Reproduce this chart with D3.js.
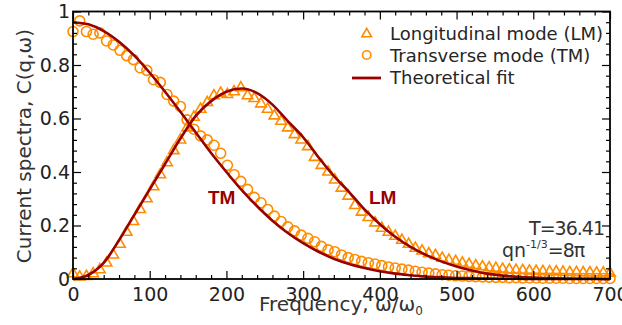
<!DOCTYPE html>
<html>
<head>
<meta charset="utf-8">
<script src="https://cdn.jsdelivr.net/npm/d3@7"></script>
<style>
  html, body { margin: 0; padding: 0; background: #fff; }
  svg { display: block; font-family: "DejaVu Sans", sans-serif; }
</style>
</head>
<body>
<div id="chart"></div>
<script>
// frequency grid of the simulated spectra (omega / omega0)
const omega = [0, 8.75, 17.5, 26.25, 35, 43.75, 52.5, 61.25, 70, 78.75, 87.5, 96.25, 105, 113.75, 122.5, 131.25,
  140, 148.75, 157.5, 166.25, 175, 183.75, 192.5, 201.25, 210, 218.75, 227.5, 236.25, 245, 253.75, 262.5, 271.25,
  280, 288.75, 297.5, 306.25, 315, 323.75, 332.5, 341.25, 350, 358.75, 367.5, 376.25, 385, 393.75, 402.5, 411.25,
  420, 428.75, 437.5, 446.25, 455, 463.75, 472.5, 481.25, 490, 498.75, 507.5, 516.25, 525, 533.75, 542.5, 551.25,
  560, 568.75, 577.5, 586.25, 595, 603.75, 612.5, 621.25, 630, 638.75, 647.5, 656.25, 665, 673.75, 682.5, 691.25, 700];

// longitudinal mode (triangles)
const lmData = [0.02, 0.008, 0.01, 0.02, 0.035, 0.06, 0.09, 0.13, 0.175, 0.215, 0.26, 0.30, 0.345, 0.39, 0.435, 0.48,
  0.52, 0.565, 0.605, 0.635, 0.66, 0.685, 0.695, 0.69, 0.70, 0.715, 0.685, 0.675, 0.655, 0.635, 0.61, 0.59,
  0.565, 0.54, 0.52, 0.495, 0.455, 0.425, 0.40, 0.37, 0.34, 0.31, 0.275, 0.25, 0.23, 0.21, 0.19, 0.175,
  0.16, 0.145, 0.13, 0.115, 0.105, 0.095, 0.088, 0.078, 0.07, 0.066, 0.06, 0.055, 0.05, 0.046, 0.042, 0.04,
  0.037, 0.035, 0.033, 0.032, 0.03, 0.029, 0.028, 0.027, 0.027, 0.026, 0.025, 0.025, 0.024, 0.024, 0.023, 0.023, 0.022];

// transverse mode (circles)
const tmData = [0.925, 0.965, 0.925, 0.915, 0.92, 0.89, 0.875, 0.855, 0.835, 0.82, 0.79, 0.78, 0.745, 0.735, 0.69, 0.665,
  0.645, 0.595, 0.56, 0.535, 0.52, 0.50, 0.47, 0.425, 0.39, 0.365, 0.335, 0.305, 0.285, 0.26, 0.235, 0.215,
  0.195, 0.18, 0.164, 0.152, 0.139, 0.122, 0.109, 0.102, 0.09, 0.08, 0.073, 0.066, 0.061, 0.056, 0.05, 0.045,
  0.041, 0.037, 0.033, 0.029, 0.025, 0.022, 0.019, 0.016, 0.014, 0.012, 0.011, 0.01, 0.009, 0.008, 0.007, 0.006,
  0.006, 0.005, 0.005, 0.004, 0.004, 0.004, 0.003, 0.003, 0.003, 0.003, 0.002, 0.002, 0.002, 0.002, 0.002, 0.002, 0.002];

// theoretical fits
const fitOmega = [0, 20, 40, 60, 80, 100, 120, 140, 160, 180, 200, 220, 240, 260, 280, 300, 320, 340,
  360, 380, 400, 420, 440, 460, 480, 500, 520, 540, 560, 580, 600, 620, 640, 660, 680, 700];
const lmFit = [0, 0.015, 0.06, 0.145, 0.24, 0.335, 0.43, 0.525, 0.61, 0.665, 0.70, 0.712, 0.695, 0.652, 0.59, 0.53, 0.455, 0.385,
  0.325, 0.26, 0.205, 0.158, 0.12, 0.09, 0.066, 0.047, 0.032, 0.02, 0.013, 0.008, 0.005, 0.003, 0.002, 0.001, 0.001, 0];
const tmFit = [0.96, 0.952, 0.927, 0.887, 0.835, 0.771, 0.70, 0.625, 0.548, 0.471, 0.40, 0.332, 0.272, 0.218, 0.172, 0.134, 0.102, 0.076,
  0.056, 0.041, 0.029, 0.02, 0.014, 0.009, 0.006, 0.004, 0.003, 0.002, 0.001, 0.001, 0, 0, 0, 0, 0, 0];

const xTicks = [0, 100, 200, 300, 400, 500, 600, 700];
const xMinor = [20, 40, 60, 80, 120, 140, 160, 180, 220, 240, 260, 280, 320, 340, 360, 380, 420, 440, 460, 480,
  520, 540, 560, 580, 620, 640, 660, 680];
const yTicks = [0, 0.2, 0.4, 0.6, 0.8, 1];
const yTickLabels = ['0', '0.2', '0.4', '0.6', '0.8', '1'];
const yMinor = [0.04, 0.08, 0.12, 0.16, 0.24, 0.28, 0.32, 0.36, 0.44, 0.48, 0.52, 0.56, 0.64, 0.68, 0.72, 0.76,
  0.84, 0.88, 0.92, 0.96];

const ORANGE = '#ff8c00';
const DARKRED = '#990000';

const width = 622, height = 325;
const plot = { left: 73, right: 610, top: 11.5, bottom: 279 };

const svg = d3.select('#chart').append('svg')
  .attr('width', width)
  .attr('height', height);

const x = d3.scaleLinear().domain([0, 700]).range([plot.left, plot.right]);
const y = d3.scaleLinear().domain([0, 1]).range([plot.bottom, plot.top]);

// triangles and circles
const tri = d3.symbol().type(d3.symbolTriangle).size(48);

svg.append('g')
  .selectAll('path')
  .data(omega.map((w, i) => [w, lmData[i]]))
  .join('path')
  .attr('d', tri)
  .attr('transform', d => `translate(${x(d[0])},${y(d[1])})`)
  .attr('fill', 'none')
  .attr('stroke', ORANGE)
  .attr('stroke-width', 1.6);

svg.append('g')
  .selectAll('circle')
  .data(omega.map((w, i) => [w, tmData[i]]))
  .join('circle')
  .attr('cx', d => x(d[0]))
  .attr('cy', d => y(d[1]))
  .attr('r', 5)
  .attr('fill', 'none')
  .attr('stroke', ORANGE)
  .attr('stroke-width', 1.6);

// fit lines
const line = d3.line()
  .x(d => x(d[0]))
  .y(d => y(d[1]))
  .curve(d3.curveMonotoneX);

[lmFit, tmFit].forEach(vals => {
  svg.append('path')
    .datum(fitOmega.map((w, i) => [w, vals[i]]))
    .attr('fill', 'none')
    .attr('stroke', DARKRED)
    .attr('stroke-width', 2.6)
    .attr('d', line);
});

// axes, ticks point inwards on all four sides
const styleAxis = g => {
  g.select('.domain').remove();
  g.selectAll('line').attr('stroke', '#000').attr('stroke-width', 1.2);
  g.selectAll('text').attr('fill', '#222').style('font-size', '19px')
    .style('font-family', '"DejaVu Sans", sans-serif');
};

svg.append('g')
  .attr('transform', `translate(0,${plot.bottom})`)
  .call(d3.axisBottom(x).tickValues(xTicks).tickSize(-8).tickPadding(9).tickFormat(d3.format('d')))
  .call(styleAxis);
svg.append('g')
  .attr('transform', `translate(0,${plot.bottom})`)
  .call(d3.axisBottom(x).tickValues(xMinor).tickSize(-4).tickFormat(''))
  .call(styleAxis);
svg.append('g')
  .attr('transform', `translate(0,${plot.top})`)
  .call(d3.axisTop(x).tickValues(xTicks).tickSize(-8).tickFormat(''))
  .call(styleAxis);
svg.append('g')
  .attr('transform', `translate(0,${plot.top})`)
  .call(d3.axisTop(x).tickValues(xMinor).tickSize(-4).tickFormat(''))
  .call(styleAxis);

svg.append('g')
  .attr('transform', `translate(${plot.left},0)`)
  .call(d3.axisLeft(y).tickValues(yTicks).tickSize(-8).tickPadding(3).tickFormat((d, i) => yTickLabels[i]))
  .call(styleAxis);
svg.append('g')
  .attr('transform', `translate(${plot.left},0)`)
  .call(d3.axisLeft(y).tickValues(yMinor).tickSize(-4).tickFormat(''))
  .call(styleAxis);
svg.append('g')
  .attr('transform', `translate(${plot.right},0)`)
  .call(d3.axisRight(y).tickValues(yTicks).tickSize(-8).tickFormat(''))
  .call(styleAxis);
svg.append('g')
  .attr('transform', `translate(${plot.right},0)`)
  .call(d3.axisRight(y).tickValues(yMinor).tickSize(-4).tickFormat(''))
  .call(styleAxis);

// frame
svg.append('rect')
  .attr('x', plot.left)
  .attr('y', plot.top)
  .attr('width', plot.right - plot.left)
  .attr('height', plot.bottom - plot.top)
  .attr('fill', 'none')
  .attr('stroke', '#000')
  .attr('stroke-width', 1.8);

// axis titles
const xTitle = svg.append('text')
  .attr('x', 341)
  .attr('y', 311)
  .attr('text-anchor', 'middle')
  .attr('fill', '#333')
  .style('font-size', '20px');
xTitle.append('tspan').text('Frequency, ω/ω');
xTitle.append('tspan').attr('dy', 4).style('font-size', '12px').text('0');

svg.append('text')
  .attr('transform', 'translate(31,146) rotate(-90)')
  .attr('text-anchor', 'middle')
  .attr('fill', '#333')
  .style('font-size', '20px')
  .text('Current spectra, C(q,ω)');

// curve labels
svg.append('text')
  .attr('x', 208).attr('y', 204)
  .attr('fill', DARKRED)
  .style('font-family', '"Liberation Sans", Arial, sans-serif')
  .style('font-weight', 'bold')
  .style('font-size', '19px')
  .text('TM');
svg.append('text')
  .attr('x', 369).attr('y', 204)
  .attr('fill', DARKRED)
  .style('font-family', '"Liberation Sans", Arial, sans-serif')
  .style('font-weight', 'bold')
  .style('font-size', '19px')
  .text('LM');

// parameters
svg.append('text')
  .attr('x', 604).attr('y', 235)
  .attr('text-anchor', 'end')
  .attr('fill', '#333')
  .style('font-size', '19px')
  .style('letter-spacing', '-1px')
  .text('T=36.41');
const q = svg.append('text')
  .attr('x', 502).attr('y', 257)
  .attr('fill', '#333')
  .style('font-size', '19px');
q.append('tspan').text('qn');
q.append('tspan').attr('dy', -9).style('font-size', '11px').text('-1/3');
q.append('tspan').attr('dy', 9).style('letter-spacing', '-1px').text('=8π');

// legend
const legend = svg.append('g');
const legendItems = ['Longitudinal mode (LM)', 'Transverse mode (TM)', 'Theoretical fit'];
legendItems.forEach((label, i) => {
  const cy = 33 + i * 22;
  if (i === 0) {
    legend.append('path')
      .attr('d', d3.symbol().type(d3.symbolTriangle).size(40))
      .attr('transform', `translate(366.7,${cy + 1})`)
      .attr('fill', 'none').attr('stroke', ORANGE).attr('stroke-width', 1.6);
  } else if (i === 1) {
    legend.append('circle')
      .attr('cx', 366.7).attr('cy', cy)
      .attr('r', 4.2)
      .attr('fill', 'none').attr('stroke', ORANGE).attr('stroke-width', 1.6);
  } else {
    legend.append('line')
      .attr('x1', 352).attr('x2', 381)
      .attr('y1', cy + 1).attr('y2', cy + 1)
      .attr('stroke', DARKRED).attr('stroke-width', 2.8);
  }
  legend.append('text')
    .attr('x', 390)
    .attr('y', cy + 6.5)
    .attr('fill', '#262626')
    .style('font-size', '18px')
    .text(label);
});
</script>
</body>
</html>
